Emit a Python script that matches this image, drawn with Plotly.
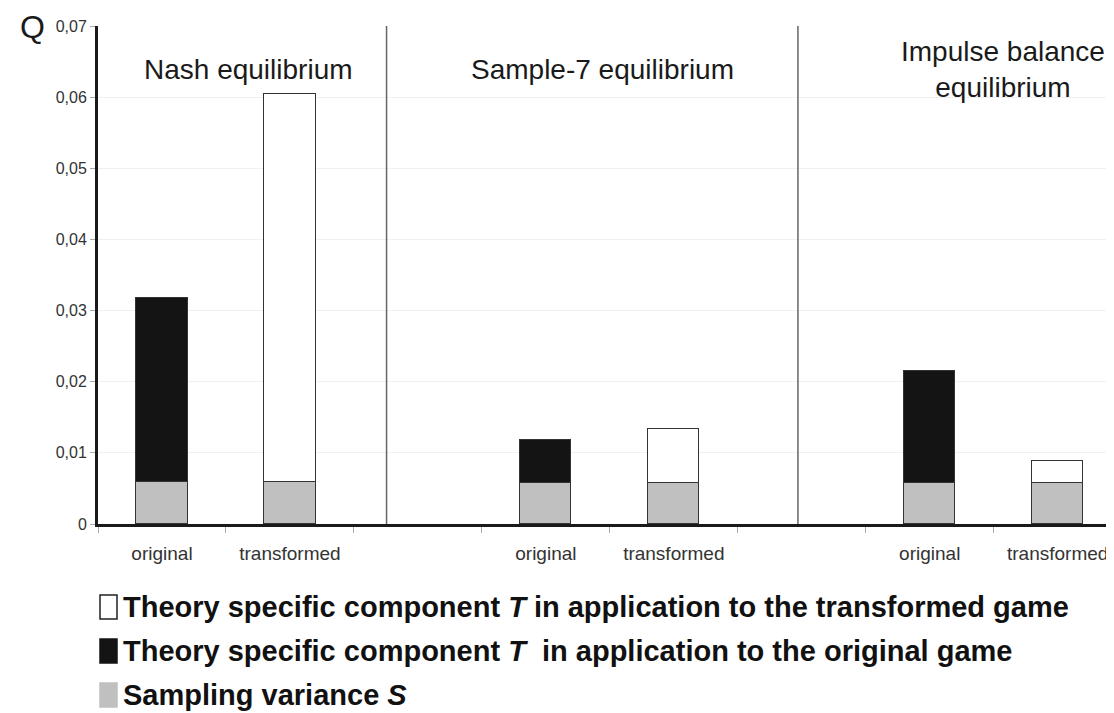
import plotly.graph_objects as go

# category slots along the x axis (empty slots keep the gaps between groups)
slot_labels = ["original", "transformed", "", "original", "transformed", "", "original", "transformed"]
orig_slots = [0, 3, 6]
trans_slots = [1, 4, 7]

sampling_S = [0.0059, 0.0059, 0.0058, 0.0058, 0.0058, 0.0058]  # orig, trans per group
bar_slots = [0, 1, 3, 4, 6, 7]
T_original = [0.0259, 0.0060, 0.0157]
T_transformed = [0.0545, 0.0076, 0.0030]

group_titles = ["Nash equilibrium", "Sample-7 equilibrium", "Impulse balance<br>equilibrium"]
group_title_x = [0.68, 3.44, 6.57]
separators_x = [1.755, 4.97]

y_ticks = [0, 0.01, 0.02, 0.03, 0.04, 0.05, 0.06, 0.07]
y_ticktext = ["0", "0,01", "0,02", "0,03", "0,04", "0,05", "0,06", "0,07"]

legend_labels = [
    "Theory specific component <i>T</i> in application to the transformed game",
    "Theory specific component <i>T</i>  in application to the original game",
    "Sampling variance <i>S</i>",
]
legend_fills = ["#ffffff", "#141414", "#c0c0c0"]

# page has an 8px body margin, so the figure is a bit smaller than the window
OFF = 8
W, H = 1114 - OFF, 713 - OFF
ML, MR, MT, MB = 98 - OFF, 0, 26 - OFF, 189
PLOT_W, PLOT_H = W - ML - MR, H - MT - MB


def px_x(x):
    """window pixel -> paper x"""
    return (x - OFF - ML) / PLOT_W


def px_y(y):
    """window pixel -> paper y"""
    return (H - MB - (y - OFF)) / PLOT_H


edge = dict(color="#333333", width=1.5)
fig = go.Figure()
fig.add_trace(go.Bar(x=bar_slots, y=sampling_S, marker=dict(color="#c0c0c0", line=edge),
                     width=0.4, name="S"))
fig.add_trace(go.Bar(x=orig_slots, y=T_original, marker=dict(color="#141414", line=edge),
                     width=0.4, name="T original"))
fig.add_trace(go.Bar(x=trans_slots, y=T_transformed, marker=dict(color="#ffffff", line=edge),
                     width=0.4, name="T transformed"))

for sx in separators_x:
    fig.add_shape(type="line", xref="x", yref="paper", x0=sx, x1=sx, y0=0, y1=1,
                  line=dict(color="#666666", width=1.5))

for txt, gx in zip(group_titles, group_title_x):
    fig.add_annotation(text=txt, x=gx, xref="x", y=px_y(70), yref="paper", showarrow=False,
                       font=dict(size=28, color="#1a1a1a"), xanchor="center", yanchor="middle")

fig.add_annotation(text="Q", x=px_x(32), y=px_y(27), xref="paper", yref="paper", showarrow=False,
                   font=dict(size=32, color="#1a1a1a"), xanchor="center", yanchor="middle")

row_y = [607, 651, 695]
for lab, fill, ry in zip(legend_labels, legend_fills, row_y):
    fig.add_shape(type="rect", xref="paper", yref="paper",
                  x0=px_x(100), x1=px_x(117), y0=px_y(ry - 12), y1=px_y(ry + 12),
                  fillcolor=fill, line=dict(color="#222222" if fill == "#ffffff" else fill, width=1.5))
    fig.add_annotation(text="<b>" + lab + "</b>", x=px_x(121), y=px_y(ry), xref="paper", yref="paper",
                       showarrow=False, xanchor="left", yanchor="middle",
                       font=dict(size=29, color="#111111"))

fig.update_layout(
    width=W, height=H,
    margin=dict(l=ML, r=MR, t=MT, b=MB, pad=0),
    barmode="stack",
    bargap=0,
    showlegend=False,
    plot_bgcolor="white",
    paper_bgcolor="white",
    font=dict(family="Arial, Liberation Sans, sans-serif", color="#333333"),
)
fig.update_xaxes(
    range=[-0.5, 7.44],
    tickmode="array", tickvals=list(range(len(slot_labels))), ticktext=slot_labels,
    ticks="", tickfont=dict(size=19, color="#333333"),
    ticklabelstandoff=10,
    showgrid=False, zeroline=False,
    showline=True, linecolor="#1a1a1a", linewidth=3,
    minor=dict(ticks="outside", tick0=0.5, dtick=1, ticklen=6, tickcolor="#aaaaaa", tickwidth=1),
)
fig.update_yaxes(
    range=[0, 0.07],
    tickmode="array", tickvals=y_ticks, ticktext=y_ticktext,
    ticks="outside", ticklen=5, tickcolor="#aaaaaa",
    tickfont=dict(size=16, color="#333333"),
    showgrid=True, gridcolor="#f0f0f0", gridwidth=1,
    zeroline=False,
    showline=True, linecolor="#1a1a1a", linewidth=3,
)

fig.write_html("out.html")
